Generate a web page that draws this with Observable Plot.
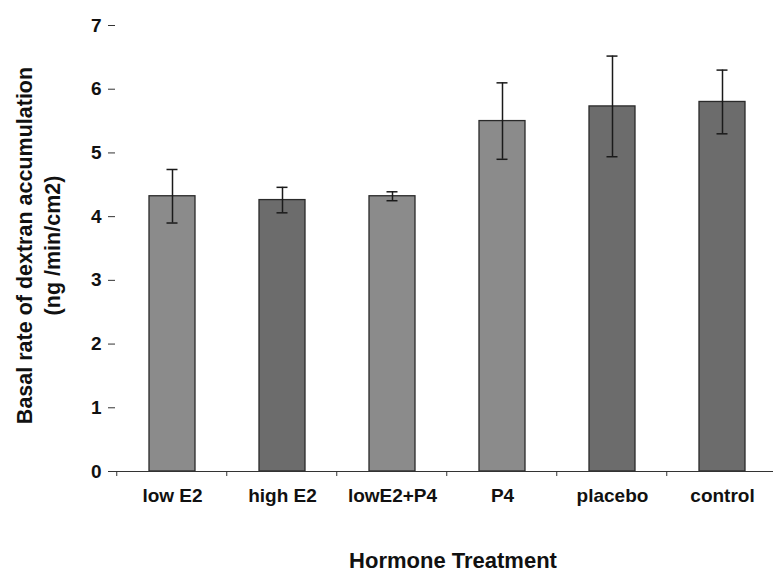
<!DOCTYPE html>
<html><head><meta charset="utf-8">
<script src="https://cdn.jsdelivr.net/npm/d3@7"></script>
<script src="https://cdn.jsdelivr.net/npm/@observablehq/plot@0.6"></script>
<style>
body{margin:0;background:#fff;overflow:hidden;}
svg{font-family:"Liberation Sans",Arial,sans-serif;overflow:hidden;}
</style></head>
<body><div id="chart"></div>
<script>
const categories = ["low E2","high E2","lowE2+P4","P4","placebo","control"];
const means = [4.32, 4.26, 4.32, 5.50, 5.73, 5.80];
const errors = [0.42, 0.20, 0.07, 0.60, 0.79, 0.50];
const shades = ["light","dark","light","light","dark","dark"];
const yTicks = [0,1,2,3,4,5,6,7];
const yLabel = "Basal rate of dextran accumulation\n(ng /min/cm2)";
const xLabel = "Hormone Treatment";

const data = categories.map((c,i)=>({cat:c, v:means[i], e:errors[i], shade:shades[i]}));
const W = 773, H = 571, mL = 115, mR = -5, mT = 25, mB = 100;
const step = (W - mL - mR) / categories.length;

const chart = Plot.plot({
  width: W, height: H,
  marginLeft: mL, marginRight: mR, marginTop: mT, marginBottom: mB,
  style: {fontFamily: '"Liberation Sans", Arial, sans-serif', background: "#fff", color: "#111", overflow: "hidden"},
  x: {domain: categories, paddingInner: 0.584, paddingOuter: 0.292, label: null},
  y: {domain: [0,7], label: null},
  color: {domain: ["light","dark"], range: ["#8b8b8b","#6c6c6c"]},
  marks: [
    Plot.barY(data, {x:"cat", y:"v", fill:"shade", stroke:"#2a2a2a", strokeWidth:1.3}),
    Plot.ruleX(data, {x:"cat", y1:d=>d.v-d.e, y2:d=>d.v+d.e, stroke:"#1a1a1a", strokeWidth:1.5}),
    Plot.tickY(data, {x:"cat", y:d=>d.v+d.e, stroke:"#1a1a1a", strokeWidth:1.5, inset: 17.5}),
    Plot.tickY(data, {x:"cat", y:d=>d.v-d.e, stroke:"#1a1a1a", strokeWidth:1.5, inset: 17.5}),
    Plot.axisY({ticks: yTicks, tickSize: 7, tickFormat: d=>d, fontSize: 19, fontWeight: "bold", tickPadding: 7, stroke:"#333", label: null}),
    Plot.ruleX([0], {x: ()=>0, y1: 0, y2: 7, stroke:"#333", render: (I, scales, values, dims) => {
      const g = d3.create("svg:g");
      g.append("line").attr("x1", dims.marginLeft).attr("x2", dims.marginLeft)
        .attr("y1", scales.y(7)).attr("y2", scales.y(0)).attr("stroke","#333");
      return g.node();
    }}),
    Plot.ruleY([0], {stroke:"#333", strokeWidth: 1}),
    Plot.tickX(categories, {x: d=>d, stroke:"#333", render: (I, scales, values, dims) => {
      const g = d3.create("svg:g");
      const y0 = scales.y(0);
      categories.forEach(c => {
        const xl = scales.x(c) + scales.x.bandwidth()/2 - step/2;
        g.append("line").attr("x1", xl).attr("x2", xl).attr("y1", y0).attr("y2", y0+5).attr("stroke","#333");
      });
      return g.node();
    }}),
    Plot.axisX({tickSize: 0, tickPadding: 17, fontSize: 19, fontWeight: "bold", label: null}),
    Plot.text([yLabel], {frameAnchor: "left", dx: -78, dy: -3, rotate: -90, textAnchor: "middle", fontSize: 21.5, fontWeight: "bold", lineHeight: 1.3, fill: "#111", lineAnchor: "middle"}),
    Plot.text([xLabel], {frameAnchor: "bottom", dx: 6, dy: 96, fontSize: 22, fontWeight: "bold", fill: "#111"})
  ]
});
document.getElementById("chart").appendChild(chart);
</script></body></html>
